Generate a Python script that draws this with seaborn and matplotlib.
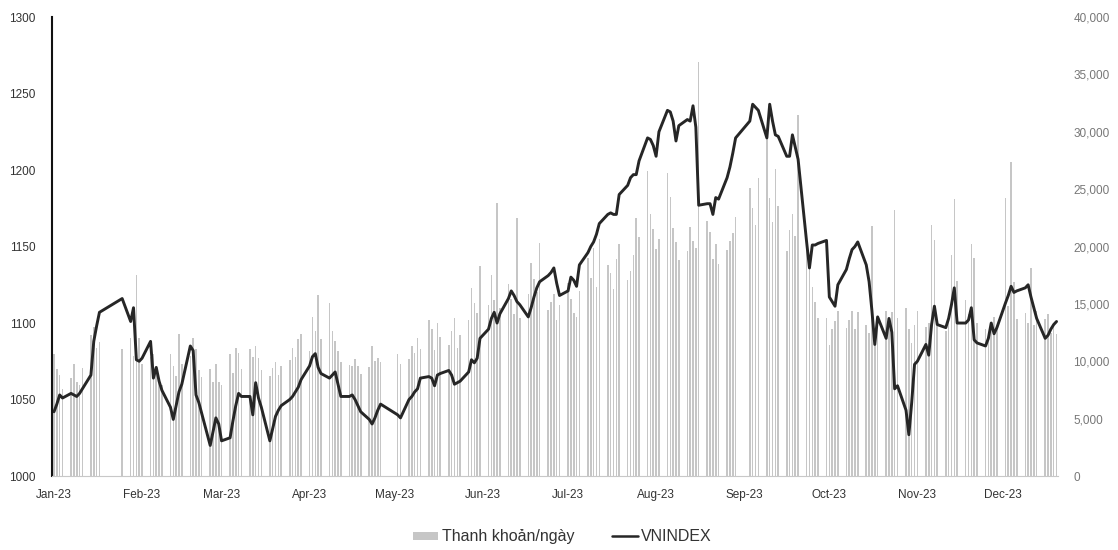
import matplotlib
matplotlib.use("Agg")
import matplotlib.pyplot as plt
import matplotlib.dates as mdates
import matplotlib.ticker as mticker
from matplotlib.patches import Patch
from matplotlib.lines import Line2D
import pandas as pd
import seaborn as sns

# ngay nghi le cua HOSE nam 2023
holidays = ["2023-01-20", "2023-01-23", "2023-01-24", "2023-01-25", "2023-01-26",
            "2023-05-01", "2023-05-02", "2023-05-03", "2023-09-01", "2023-09-04"]

# VNINDEX theo thang
vni_jan = [1042, 1047, 1053, 1051, 1054, 1053, 1052, 1054, 1057, 1066, 1088, 1098, 1107, 1116, 1101, 1110]
vni_feb = [1076, 1075, 1077, 1088, 1064, 1071, 1062, 1056, 1045, 1037, 1046, 1055, 1060, 1085, 1082,
           1053, 1048, 1041, 1020, 1029]
vni_mar = [1038, 1034, 1023, 1025, 1036, 1046, 1054, 1052, 1052, 1040, 1061, 1051, 1045, 1023, 1031,
           1039, 1043, 1046, 1050, 1052, 1055, 1058, 1063]
vni_apr = [1072, 1078, 1080, 1071, 1067, 1064, 1066, 1068, 1060, 1052, 1052, 1053, 1050, 1046, 1042,
           1037, 1034, 1038, 1043, 1047]
vni_may = [1040, 1038, 1050, 1052, 1055, 1057, 1064, 1065, 1064, 1059, 1066, 1067, 1069, 1066, 1060,
           1061, 1062, 1068, 1076, 1074]
vni_jun = [1077, 1090, 1096, 1103, 1107, 1100, 1106, 1116, 1121, 1118, 1114, 1112, 1104, 1110, 1117,
           1123, 1127, 1131, 1133, 1136, 1126, 1118]
vni_jul = [1121, 1130, 1128, 1124, 1138, 1146, 1150, 1153, 1158, 1165, 1171, 1172, 1171, 1171, 1184,
           1190, 1195, 1197, 1197, 1206, 1221]
vni_aug = [1220, 1216, 1209, 1225, 1239, 1238, 1232, 1219, 1229, 1233, 1232, 1242, 1228, 1177, 1178,
           1178, 1171, 1182, 1181, 1195, 1202, 1211, 1221]
vni_sep = [1232, 1243, 1241, 1239, 1221, 1243, 1232, 1223, 1222, 1209, 1209, 1223, 1215, 1207, 1153,
           1136, 1151, 1151, 1152]
vni_oct = [1154, 1117, 1114, 1111, 1125, 1135, 1142, 1148, 1150, 1153, 1138, 1127, 1108, 1086, 1104,
           1090, 1103, 1094, 1057, 1059, 1043, 1027]
vni_nov = [1048, 1073, 1075, 1086, 1079, 1099, 1111, 1099, 1097, 1103, 1112, 1123, 1100, 1100, 1102,
           1110, 1089, 1087, 1085, 1090, 1100, 1093]
vni_dec = [1097, 1113, 1118, 1124, 1120, 1121, 1123, 1125, 1117, 1110, 1103, 1090, 1092, 1096, 1099, 1101]

# Thanh khoan/ngay (ty dong)
tk_jan = [10600, 9300, 8800, 7600, 8500, 9800, 8200, 7900, 9400, 12300, 13000, 11200, 11700, 11100, 12000, 10500]
tk_feb = [17500, 12000, 9800, 10400, 10600, 9200, 8500, 7900, 10600, 9600, 8700, 12400, 9800, 10500, 12000,
          11100, 9200, 8600, 9300, 8200]
tk_mar = [9800, 8200, 7900, 10600, 9000, 11200, 10700, 9300, 11100, 10400, 11300, 10300, 9200, 8700, 9400,
          9900, 8800, 9600, 10100, 11200, 10400, 11900, 12400]
tk_apr = [10900, 13900, 12600, 15800, 11900, 15100, 12600, 11800, 10900, 9900, 9700, 9600, 10200, 9600, 8900,
          9500, 11300, 10000, 10300, 9900]
tk_may = [10600, 9800, 10200, 11300, 10700, 12000, 11100, 13600, 12800, 11000, 13300, 12100, 11400, 12600,
          13800, 11200, 12300, 13600, 16400, 15100]
tk_jun = [14200, 18300, 14900, 17500, 15300, 23800, 14600, 16700, 15400, 14100, 22500, 13800, 15900, 18600,
          17200, 16000, 20300, 14500, 15200, 15900, 13600, 14900]
tk_jul = [16800, 15400, 14200, 13900, 16100, 19000, 17300, 19900, 16500, 20700, 18400, 17700, 16300, 18900,
          20200, 17100, 17900, 19300, 22500, 20800, 26600]
tk_aug = [22800, 21500, 19800, 20700, 26400, 24300, 21600, 20400, 18800, 19600, 21700, 20500, 19900, 36100,
          22200, 21300, 18900, 20200, 18500, 19700, 20500, 21200, 22600]
tk_sep = [25100, 23400, 21900, 26000, 30000, 24200, 22100, 26800, 23500, 19600, 21400, 22800, 20900, 31500,
          21000, 18100, 16500, 15200, 13800]
tk_oct = [13800, 11400, 12800, 13500, 14400, 12900, 13600, 14400, 12800, 14300, 13200, 12500, 21800, 12300,
          13600, 14400, 13500, 14300, 23200, 13800, 14600, 12800]
tk_nov = [11600, 13200, 14400, 13000, 13300, 21900, 20600, 13100, 12600, 13800, 19300, 24100, 17000, 15300,
          14100, 20200, 19000, 13300, 12800, 12400, 13300, 13900]
tk_dec = [12800, 24200, 14800, 27400, 16900, 13700, 14200, 13300, 18100, 13200, 14400, 13700, 14100, 12500,
          13000, 12400]

vnindex = vni_jan + vni_feb + vni_mar + vni_apr + vni_may + vni_jun + vni_jul + vni_aug + vni_sep + vni_oct + vni_nov + vni_dec
thanh_khoan = tk_jan + tk_feb + tk_mar + tk_apr + tk_may + tk_jun + tk_jul + tk_aug + tk_sep + tk_oct + tk_nov + tk_dec

dates = pd.bdate_range("2023-01-03", "2023-12-22", freq="C", holidays=holidays)
df = pd.DataFrame({"date": dates, "VNINDEX": vnindex, "Thanh khoan": thanh_khoan})

sns.set_theme(style="white")
plt.rcParams["font.family"] = ["Liberation Sans", "DejaVu Sans"]

fig = plt.figure(figsize=(11.18, 5.5), dpi=100)
ax = fig.add_axes([0.0465, 0.1345, 0.8998, 0.8345])
ax2 = ax.twinx()

ax2.bar(df["date"], df["Thanh khoan"], width=0.55, color="#c6c6c6", linewidth=0)
sns.lineplot(data=df, x="date", y="VNINDEX", ax=ax, color="#262626", linewidth=2.1)

ax.set_zorder(ax2.get_zorder() + 1)
ax.patch.set_visible(False)

ax.set_xlim(pd.Timestamp("2023-01-03") - pd.Timedelta(hours=17), pd.Timestamp("2023-12-22 12:00"))
ax.set_ylim(1000, 1300)
ax.yaxis.set_major_locator(mticker.MultipleLocator(50))
ax2.set_ylim(0, 40000)
ax2.yaxis.set_major_locator(mticker.MultipleLocator(5000))
ax2.yaxis.set_major_formatter(mticker.StrMethodFormatter("{x:,.0f}"))

ticks = pd.date_range("2023-01-01", periods=12, freq="MS") + pd.Timedelta(days=2)
ax.set_xticks(ticks)
ax.xaxis.set_major_formatter(mdates.DateFormatter("%b-%y"))

ax.set_xlabel("")
ax.set_ylabel("")
ax.tick_params(axis="x", length=0, pad=9, labelsize=8.5, labelcolor="#333333")
ax.tick_params(axis="y", length=0, pad=12, labelsize=8.5, labelcolor="#333333")
ax2.tick_params(axis="y", length=0, pad=11, labelsize=8.5, labelcolor="#777777")

for a in (ax, ax2):
    a.spines["top"].set_visible(False)
    a.spines["right"].set_visible(False)
    a.spines["left"].set_visible(False)
    a.spines["bottom"].set_visible(False)
    a.grid(False)
ax.spines["left"].set_visible(True)
ax.spines["left"].set_color("#111111")
ax.spines["left"].set_linewidth(1.5)
ax.spines["bottom"].set_visible(True)
ax.spines["bottom"].set_color("#c8c8c8")
ax.spines["bottom"].set_linewidth(0.8)

handles = [Patch(facecolor="#c6c6c6", edgecolor="none", label="Thanh khoản/ngày"),
           Line2D([0], [0], color="#262626", linewidth=1.8, label="VNINDEX")]
fig.legend(handles=handles, loc="center", bbox_to_anchor=(0.503, 0.024), ncol=2, frameon=False,
           fontsize=11.5, handlelength=1.6, handleheight=0.4, handletextpad=0.2, columnspacing=2.4,
           labelcolor="#333333")

fig.savefig("out.png", dpi=100)
